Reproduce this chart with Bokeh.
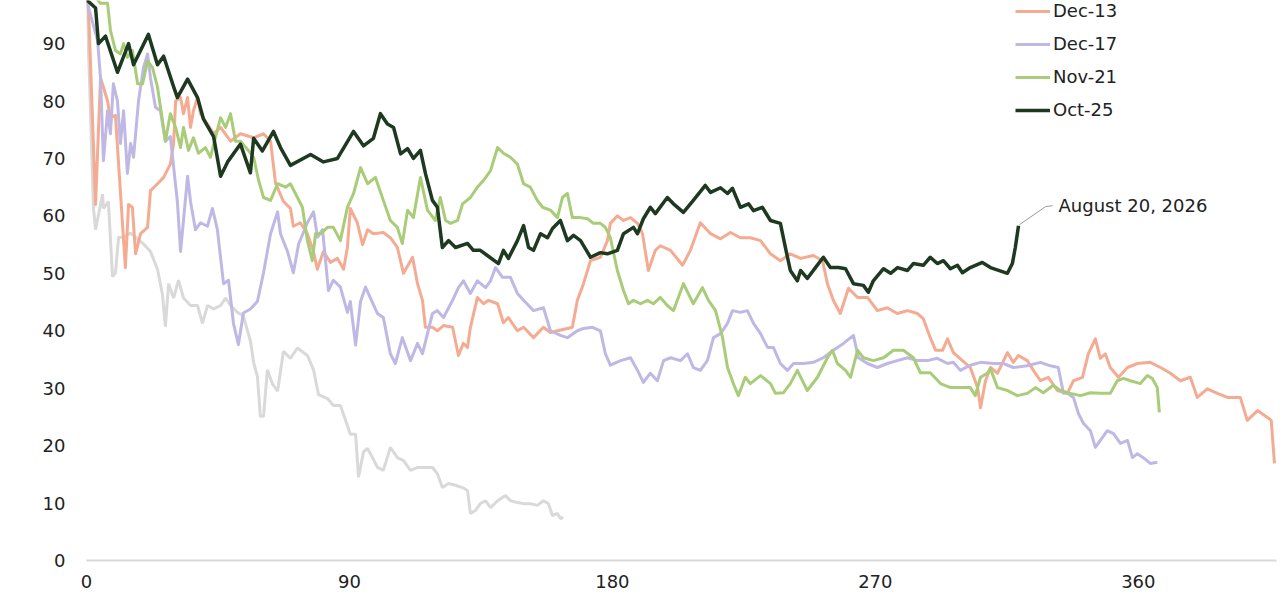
from bokeh.plotting import figure
from bokeh.models import Range1d, FixedTicker, Legend, LegendItem, Label
from bokeh.embed import file_html
from bokeh.resources import INLINE

# ---------------- data (days since peak, index value) ----------------
x_ticks = [0, 90, 180, 270, 360]
y_ticks = [0, 10, 20, 30, 40, 50, 60, 70, 80, 90]

series_names = ["Dec-13", "Dec-17", "Nov-21", "Oct-25"]
annotation_text = "August 20, 2026"

earlier = [(0, 100), (2.4, 61.3), (3.1, 57.6), (5.5, 63.8), (5.8, 61.3), (7.5, 62.5), (8.9, 49.4),
           (9.9, 50.1), (11, 56.3), (12.7, 56.3), (15.1, 57), (17.5, 56), (19.5, 55.1), (21.9, 53.8),
           (24.3, 50.7), (26, 46.3), (27, 40.7), (28.1, 48.2), (29.8, 45.7), (31.5, 48.8), (33.2, 45.7),
           (35.6, 44.4), (38, 44.4), (39.7, 41.3), (41.4, 44.4), (43.5, 43.8), (45.9, 44.4), (47.6, 45.7),
           (49.3, 44.4), (51.7, 43.2), (53.7, 42.6), (56.1, 38.2), (57.2, 34.5), (58.5, 32), (59.5, 25.1),
           (60.6, 25.1), (61.9, 33.2), (63.7, 30.7), (65.4, 29.5), (67.4, 36.4), (69.8, 35.2), (72.2, 37),
           (75.6, 35.7), (77.7, 33.2), (79.4, 28.9), (82.5, 28.2), (84.5, 27), (86.9, 27), (88.6, 24.5),
           (90.3, 22), (92.1, 22), (93.1, 14.5), (94.8, 18.9), (96.2, 19.5), (98.2, 17.6), (99.6, 16.2),
           (101.6, 15.7), (104, 19.7), (106.4, 17.9), (108.5, 17.4), (110.9, 15.7), (113.3, 16.2),
           (115.3, 16.2), (118.4, 16.2), (120.1, 15.1), (121.8, 12.7), (123.9, 13.4), (126.3, 13.1),
           (128.7, 12.7), (130.4, 12.2), (131.4, 8.2), (133.1, 8.7), (134.8, 9.9), (136.6, 10.4),
           (138.3, 9.2), (140.7, 10.4), (143.4, 11.3), (145.1, 10.4), (147.5, 10.1), (149.6, 9.9),
           (151.9, 9.9), (154.3, 9.6), (156.4, 10.4), (158.1, 9.9), (159.5, 7.8), (161.2, 8.2),
           (162.2, 7.3), (163.2, 7.5)]

dec13 = [(0, 100), (0.7, 96), (3.1, 62), (4.8, 84), (5.8, 82.4), (7.2, 80), (8.2, 77.1), (9.9, 77.5),
         (13.3, 51), (14.4, 62), (15.7, 61.5), (16.8, 53.4), (18.5, 56.9), (20.9, 58), (21.9, 64.4),
         (24.3, 65.6), (26.4, 66.7), (28.7, 69), (29.8, 72.6), (30.5, 80), (32.2, 80.6), (33.2, 77.8),
         (34.6, 80.6), (35.6, 75.4), (36.6, 78.3), (38, 80.6), (39, 77.8), (41.4, 76), (43.5, 74.3),
         (45.9, 75.4), (49.3, 73), (52.7, 74.3), (57.2, 73.6), (60.6, 74.3), (63, 73), (64.7, 65.7),
         (67.4, 62.5), (69.8, 61.3), (70.8, 58.2), (73.2, 58.8), (75.6, 56.9), (77.7, 53.8), (79, 50.7),
         (81.1, 53.8), (83.5, 51.9), (85.9, 52.6), (88, 50.7), (89.3, 54.5), (90.3, 61.3), (92.7, 58.8),
         (94.5, 55), (96.2, 57.6), (98.2, 56.9), (101.6, 57.1), (104, 56.2), (106.4, 54.5), (108.5, 50),
         (111.6, 52.8), (113.3, 48.2), (115, 45.3), (116, 40.6), (118.4, 40.6), (120.1, 40),
         (122.2, 40.9), (125.3, 40.6), (127.3, 35.7), (129, 37.8), (130.4, 37.1), (131.4, 40.6),
         (133.8, 45.8), (135.9, 44.7), (137.6, 45.3), (140.7, 44.7), (142.7, 41.4), (144.4, 42.3),
         (147.5, 40), (149.6, 40.6), (153, 38.8), (156.4, 40.6), (158.8, 39.7), (161.2, 40),
         (164.6, 40.4), (166.3, 40.6), (168, 45.3), (170.1, 48.2), (172.5, 52.2), (175.9, 52.8),
         (178.3, 55.7), (179.3, 58.7), (181.7, 60), (183.8, 59.2), (186.2, 59.7), (188.6, 58.7),
         (190.3, 56.9), (192.3, 50.5), (194.7, 54), (196.4, 54.8), (199.9, 54), (204, 51.4),
         (206.7, 54), (210.1, 58.8), (213.6, 56.9), (217, 56), (220.4, 57.1), (223.8, 56.2),
         (227.2, 56.2), (230.7, 55.7), (234.1, 53.4), (237.5, 52.2), (240.9, 53.4), (244.4, 52.6),
         (248.8, 53.1), (251.9, 52.2), (253.6, 48.2), (255.6, 45.3), (258, 43), (260.8, 47.4),
         (263.9, 45.8), (267.3, 45.8), (270.7, 43.5), (274.1, 44), (277.5, 43), (281, 43.5),
         (284.4, 43), (286.4, 42.1), (288.8, 38.8), (290.6, 36.6), (293, 36.6), (294.7, 38.6),
         (296.7, 36.2), (299.8, 34.8), (302.5, 33.6), (305, 30.1), (306, 26.6), (307.7, 31.3),
         (309.4, 33.6), (311.8, 32.6), (315.2, 36.2), (317.2, 34.5), (319, 35.7), (322, 34.8),
         (324.1, 33.1), (326.5, 31.3), (329.2, 31.9), (332.3, 29.6), (335.7, 29.1), (337.8, 31.3),
         (340.9, 31.9), (342.9, 36), (345.3, 38.6), (347, 35.2), (348.7, 36), (350.4, 33.6),
         (353.2, 31.9), (356.3, 33.6), (359.7, 34.3), (364.1, 34.5), (367.6, 33.6), (371, 32.6),
         (374.4, 31.3), (377.8, 31.9), (380.2, 28.4), (383.6, 29.9), (387.1, 29.1), (390.5, 28.4),
         (394.9, 28.4), (397.3, 24.4), (400.8, 26.1), (404.2, 24.9), (405.5, 24.4), (406.6, 16.9)]

dec17 = [(0, 100), (0.3, 97), (3.8, 90.5), (4.8, 84), (5.8, 69.6), (7.2, 78.3), (8.2, 74.3), (9.2, 83),
         (10.6, 80), (11.6, 72.6), (12.7, 78.3), (14, 67.4), (15.1, 72.6), (16.1, 70.2), (17.8, 80),
         (19.5, 85.8), (20.9, 88.2), (21.9, 84), (23.6, 78.9), (25.3, 78.3), (27, 73), (28.7, 73.8),
         (31.1, 62.5), (32.2, 53.8), (34.6, 66.9), (35.6, 62.5), (37.3, 57.6), (39, 58.8), (41.4, 58.2),
         (43.1, 61.3), (44.8, 57.6), (46.9, 48.2), (48.6, 48.8), (50.3, 41.3), (52, 37.6), (53.7, 43.1),
         (56.1, 43.8), (58.5, 45.1), (60.6, 50.1), (63, 56.9), (65.4, 60.7), (66.4, 56.9), (68.8, 53.8),
         (70.8, 50.1), (72.6, 55.1), (75.6, 58.8), (77.7, 60.7), (79.1, 56.3), (80.8, 57.6), (82.8, 47),
         (84.5, 48.8), (86.9, 47.6), (89.3, 43.2), (90.3, 45.1), (92.1, 37.5), (93.8, 45.1), (95.5, 47.6),
         (97.2, 45.7), (99.6, 43), (101.6, 42.3), (104, 36), (105.7, 34.3), (108.1, 38.8), (110.9, 34.8),
         (113.3, 37.8), (115, 36), (116.7, 39.5), (118.4, 43), (120.1, 43.5), (122.2, 42.3),
         (125.3, 45.3), (127.3, 47.5), (129, 48.7), (131.4, 46.5), (133.8, 48.7), (136.6, 47.5),
         (138.3, 48.7), (140, 51), (142.4, 49.3), (145.1, 49.3), (147.5, 46.5), (149.6, 45.3),
         (153, 43.5), (156.4, 44), (158.8, 40), (162.2, 39.2), (164.6, 38.8), (168, 40), (170.1, 40.4),
         (173.2, 40.6), (175.9, 40), (177.6, 36), (179.3, 34), (182.8, 34.8), (186.2, 35.3),
         (188.6, 33.1), (190.6, 31), (193, 32.6), (195.4, 31.3), (197.5, 34.8), (199.9, 35.3),
         (203.3, 34.8), (205.7, 36), (207.7, 33.6), (210.1, 33.1), (212.5, 34.8), (214.6, 38.8),
         (217, 39.5), (219.4, 41.3), (221.1, 43.5), (223.8, 43.2), (226.2, 43.5), (228.3, 41.3),
         (230.7, 39.5), (233.1, 37.1), (235.1, 37.1), (237.5, 34.3), (239.9, 33.1), (242, 34.3),
         (245.4, 34.3), (248.8, 34.5), (252.2, 35.3), (255.6, 36.6), (259.1, 37.8), (262.5, 39.2),
         (264.2, 35.3), (267.3, 34.3), (270.7, 33.6), (274.1, 34.3), (277.5, 34.8), (281, 35.3),
         (284.4, 34.8), (287.8, 34.8), (291.2, 35.2), (294.7, 34.3), (296.7, 34.5), (299.1, 33.1),
         (302.5, 34), (306, 34.5), (310.4, 34.3), (313.8, 34.3), (317.2, 33.6), (322, 33.9),
         (326.5, 34.5), (329.9, 33.9), (332.6, 33.6), (334.4, 29.1), (335.7, 29.1), (337.8, 28.4),
         (339.5, 25.6), (341.2, 23.9), (343.6, 22.6), (345.3, 19.7), (347, 20.9), (349.4, 22.6),
         (351.5, 22.1), (353.9, 20.4), (356.3, 20.9), (358, 17.9), (359.7, 18.6), (361.7, 17.9),
         (364.1, 16.9), (366.5, 17.1)]

nov21 = [(0, 100), (4.8, 97), (7.2, 97), (8.2, 92.3), (9.9, 88.8), (11.6, 88.2), (12.7, 90), (14, 87.6),
         (15.7, 88.8), (17.5, 83), (19.2, 83), (20.9, 87), (22.6, 85.8), (24.3, 82.4), (26, 76.6),
         (27, 73), (28.7, 77.8), (30.5, 75.4), (32.2, 71.9), (33.2, 75.4), (34.9, 71.4), (36.6, 73.6),
         (38.3, 70.9), (40.7, 71.9), (42.4, 70.2), (44.1, 73.6), (45.9, 77.1), (47.6, 75.4), (49.3, 77.8),
         (51, 73), (52.7, 73), (55.4, 71.4), (57.2, 70.2), (58.9, 66.2), (60.6, 63.2), (63, 62.7),
         (65.4, 65.6), (68.1, 65), (69.8, 65.6), (71.5, 63.9), (73.9, 61.5), (75.6, 55.7), (77.3, 52.2),
         (78.4, 56.9), (80.1, 56.9), (82.5, 58), (84.5, 58), (86.9, 55.7), (89.3, 61.5), (91.4, 63.9),
         (93.8, 68.4), (96.2, 65.6), (98.9, 66.7), (101.6, 62.7), (104, 59.2), (106.4, 58), (108.1, 55.2),
         (109.9, 61), (111.9, 59.7), (114.3, 66.7), (116.7, 61), (119.4, 59.2), (121.1, 63.2),
         (122.9, 59.2), (124.6, 58.7), (127, 59.2), (128.7, 62.1), (131.4, 63.2), (133.8, 65),
         (135.9, 66.2), (138.3, 67.9), (140.7, 71.9), (142.7, 70.9), (145.1, 70.2), (147.5, 69),
         (149.6, 65.6), (151.9, 65), (154.3, 62.7), (156.1, 61.5), (158.8, 61), (161.2, 59.7),
         (162.9, 63.2), (164.6, 63.9), (166.3, 59.7), (169.1, 59.7), (171.5, 59.5), (173.5, 58.7),
         (175.9, 58.7), (177.6, 58), (179.3, 56.2), (181.7, 50.5), (183.8, 47), (185.5, 44.7),
         (187.2, 45.3), (189.6, 44.7), (192, 45.3), (194, 44.7), (196.4, 45.8), (198.8, 44.4),
         (200.9, 43.5), (204.3, 48.2), (207.7, 44.7), (210.8, 47.5), (212.9, 45.3), (215.3, 43.5),
         (217.7, 38.8), (219.4, 33.6), (221.4, 30.8), (223.1, 28.7), (225.5, 31.9), (227.2, 30.8),
         (230.7, 32.2), (234.1, 30.8), (235.8, 29.1), (238.5, 29.2), (240.9, 30.8), (243.3, 33.1),
         (246.7, 29.6), (250.2, 31.9), (253.6, 35.3), (255.3, 36.6), (257, 34.3), (259.8, 33.1),
         (261.5, 31.9), (263.9, 36.6), (265.9, 35.3), (269.3, 34.8), (272.8, 35.3), (276.2, 36.6),
         (279.6, 36.6), (283, 35.3), (285.4, 32.7), (288.8, 32.7), (292.3, 30.8), (295.7, 30.1),
         (299.1, 30.1), (302.5, 30.1), (304.2, 28.7), (306, 31.9), (308.3, 32.6), (309.4, 33.4),
         (311.8, 30.1), (315.2, 29.6), (318.6, 28.7), (322, 29.1), (324.8, 30.1), (327.5, 29.2),
         (330.9, 30.5), (333.3, 29.6), (336.8, 29.1), (340.2, 28.7), (343.6, 29.2), (347, 29.1),
         (350.4, 29.1), (352.8, 31.3), (354.9, 31.7), (357.3, 31.3), (360.7, 30.8), (363.1, 32.2),
         (364.8, 31.7), (366.5, 30.1), (367.2, 25.8)]

oct25 = [(0, 100), (0.3, 97.5), (3.1, 96.2), (4.1, 90), (6.5, 91.3), (10.6, 85), (14.4, 90), (16.1, 86.3),
         (21.2, 91.6), (24.3, 86.3), (26.4, 87.8), (29.8, 82.5), (31.1, 80.6), (34.6, 83.8), (38, 80.6),
         (40, 76.9), (43.5, 73.8), (45.9, 66.9), (48.3, 69.4), (52.7, 72.5), (56.1, 67.5), (57.2, 73.5),
         (60.2, 71.3), (64, 74.7), (66.4, 71.9), (69.8, 68.8), (76.7, 70.7), (81.1, 69.4), (85.9, 70),
         (91.4, 74.7), (94.8, 72.2), (98.2, 73.5), (100.6, 77.8), (103, 76), (105.1, 75.4), (107.5, 70.8),
         (109.9, 71.7), (111.9, 70), (114.3, 71.4), (116, 67.4), (118.4, 62.7), (120.1, 61.5),
         (121.8, 54.5), (123.9, 55.7), (126.3, 54.5), (130.4, 55.2), (132.4, 54), (134.8, 54),
         (137.2, 53.1), (141, 51.7), (142.7, 54), (144.4, 52.6), (147.5, 55.7), (149.6, 58.3),
         (151.3, 54.5), (153, 54), (155.4, 56.9), (157.8, 56.2), (159.5, 57.8), (162.2, 59.2),
         (164.6, 55.7), (166.7, 56.6), (169.1, 55.7), (172.5, 52.8), (175.9, 53.6), (178.3, 53.4),
         (181.7, 54), (183.8, 56.9), (187.2, 58), (188.6, 56.9), (190.6, 59.5), (193, 61.5),
         (194.7, 60.4), (198.8, 63.2), (200.9, 62.1), (204.3, 60.6), (207.7, 62.7), (211.8, 65.3),
         (213.6, 64.1), (217, 64.9), (219.4, 63.9), (221.1, 64.8), (223.8, 61.5), (226.6, 62.1),
         (228.3, 60.9), (231.3, 61.5), (234.1, 59.2), (237.5, 58.7), (239.2, 54.5), (240.9, 50.5),
         (243.3, 48.7), (244.4, 50.5), (246.7, 49.1), (249.5, 51), (252.2, 52.8), (254.6, 51),
         (257.4, 51), (259.8, 50.8), (262.5, 48.2), (265.9, 47.9), (267.6, 46.7), (269.3, 48.7),
         (272.8, 50.8), (275.2, 50), (277.6, 51), (281, 50.5), (283, 51.7), (286.4, 51.4), (288.8, 52.8),
         (291.2, 51.7), (293.3, 52.2), (295.7, 50.8), (298.1, 51.4), (299.8, 50.1), (302.5, 51),
         (306.6, 51.9), (309.4, 51), (315.2, 50), (316.9, 51.7), (317.9, 54.5), (319, 58.3)]

colors = {"earlier": "#d9d9d9", "Dec-13": "#f4ab92", "Dec-17": "#bfb8e5",
          "Nov-21": "#a9cc79", "Oct-25": "#1d3a20"}

# ---------------- layout ----------------
FONT = "DejaVu Sans"
FS = "18px"
W, H = 1280, 600
B_LEFT, B_RIGHT, B_TOP, B_BOTTOM = 86, 4, 0, 40
X_END, Y_END = 407.3, 97.5
px_per_day = (W - B_LEFT - B_RIGHT) / X_END
px_per_unit = (H - B_TOP - B_BOTTOM) / Y_END

p = figure(width=W, height=H, output_backend="svg", toolbar_location=None,
           x_range=Range1d(0, X_END), y_range=Range1d(0, Y_END),
           min_border_left=B_LEFT, min_border_right=B_RIGHT,
           min_border_top=B_TOP, min_border_bottom=B_BOTTOM)
p.outline_line_color = None
p.grid.visible = False
p.background_fill_color = "white"
p.border_fill_color = "white"


def xs(data):
    return [d for d, _ in data]


def ys(data):
    return [v for _, v in data]


p.line(xs(earlier), ys(earlier), line_color=colors["earlier"], line_width=3)
renderers = {}
for name, data, lw in [("Dec-13", dec13, 3), ("Dec-17", dec17, 3),
                       ("Nov-21", nov21, 3), ("Oct-25", oct25, 3.5)]:
    renderers[name] = p.line(xs(data), ys(data), line_color=colors[name],
                             line_width=lw, line_join="round")

# axes
p.xaxis.ticker = FixedTicker(ticks=x_ticks)
p.yaxis.ticker = FixedTicker(ticks=y_ticks)
for ax in (p.xaxis, p.yaxis):
    ax.major_tick_line_color = None
    ax.minor_tick_line_color = None
    ax.major_tick_out = 0
    ax.major_tick_in = 0
    ax.minor_tick_out = 0
    ax.major_label_text_font = FONT
    ax.major_label_text_font_size = FS
    ax.major_label_text_color = "#222222"
p.xaxis.axis_line_color = "#d9d9d9"
p.xaxis.axis_line_width = 2
p.xaxis.major_label_standoff = 14
p.yaxis.axis_line_color = None
p.yaxis.major_label_standoff = 21

# legend
legend = Legend(items=[LegendItem(label=n, renderers=[renderers[n]]) for n in series_names],
                location=(929, 440), orientation="vertical",
                glyph_width=35, glyph_height=20, label_height=20, spacing=12,
                label_standoff=3, padding=0, margin=0,
                border_line_color=None, background_fill_alpha=0,
                label_text_font=FONT, label_text_font_size=FS,
                label_text_color="#222222")
p.add_layout(legend)

# annotation for the latest point
last_x, last_y = oct25[-1]
p.line([last_x + 1 / px_per_day, last_x + 27 / px_per_day, last_x + 34 / px_per_day],
       [last_y + 1 / px_per_unit, last_y + 19 / px_per_unit, last_y + 20 / px_per_unit],
       line_color="#9a9a9a", line_width=1)
p.add_layout(Label(x=last_x + 40 / px_per_day, y=last_y + 20 / px_per_unit,
                   text=annotation_text, text_baseline="middle", text_align="left",
                   text_font=FONT, text_font_size=FS, text_color="#222222"))

open("out.html", "w").write(file_html(p, INLINE))
